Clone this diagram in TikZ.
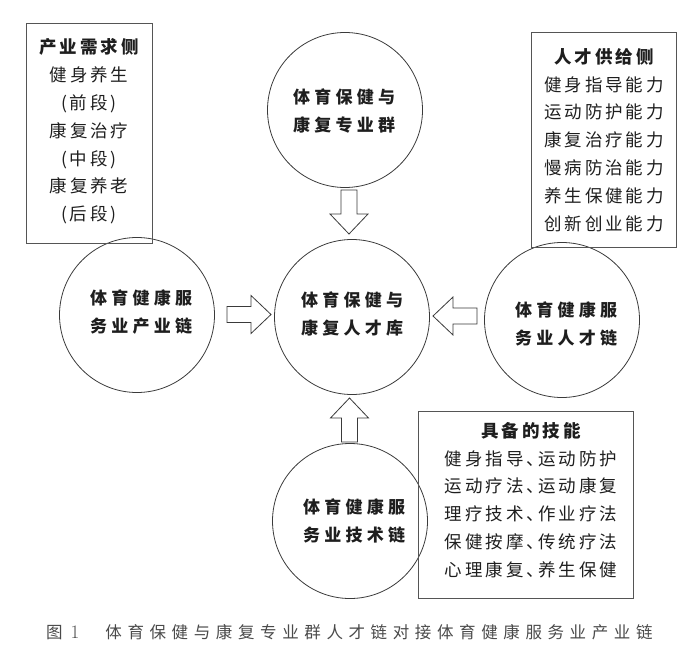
\documentclass[tikz,border=0pt]{standalone}
\usepackage{fontspec}
\newfontfamily\cjkcirc[LetterSpace=25]{Noto Sans CJK SC}
\newfontfamily\cjkbox[LetterSpace=17]{Noto Sans CJK SC}
\newfontfamily\cjkcap[LetterSpace=34]{Noto Sans CJK SC}
\definecolor{linegray}{HTML}{3A3A3A}
\definecolor{boxgray}{HTML}{555555}
\definecolor{txt}{HTML}{1E1E1E}
\definecolor{capgray}{HTML}{4A4A4A}
\tikzset{
  circ/.style={circle, draw=linegray, line width=0.8pt, minimum size=155pt, inner sep=0pt},
  circtext/.style={text=txt, align=center, font=\cjkcirc\bfseries\fontsize{17}{27.5}\selectfont},
  boxframe/.style={rectangle, draw=boxgray, line width=0.8pt, inner sep=0pt},
  boxtext/.style={text=txt, align=center, font=\cjkbox\fontsize{17.5}{27.8}\selectfont},
  arrowline/.style={draw=linegray, line width=0.8pt, fill=white},
  blockarrow/.pic={\path[arrowline] (0,-8) -- (24,-8) -- (24,-19) -- (44,0) -- (24,19) -- (24,8) -- (0,8) -- cycle;}
}
\begin{document}
\begin{tikzpicture}[x=1pt,y=-1pt]
\useasboundingbox (0,0) rectangle (700,666);
% circles
\node[circ] (top) at (345,110) {};
\node[circtext] (toptext) at (344,111) {体育保健与\\康复专业群};
\node[circ] (center) at (352,317) {};
\node[circtext] (centertext) at (352,314) {体育保健与\\康复人才库};
\node[circ] (left) at (137,315) {};
\node[circtext] (lefttext) at (141,312) {体育健康服\\务业产业链};
\node[circ] (right) at (562,320) {};
\node[circtext] (righttext) at (566,324) {体育健康服\\务业人才链};
\node[circ] (bottom) at (350,521) {};
\node[circtext] (bottomtext) at (354,521) {体育健康服\\务业技术链};
% boxes
\node[boxframe, minimum width=126pt, minimum height=220pt] (demand) at (89,133) {};
\node[boxtext] (demandtext) at (89,131.5) {{\bfseries 产业需求侧}\\健身养生\\(前段)\\康复治疗\\(中段)\\康复养老\\(后段)};
\node[boxframe, minimum width=145pt, minimum height=215pt] (supply) at (603.5,139.5) {};
\node[boxtext] (supplytext) at (604,140) {{\bfseries 人才供给侧}\\健身指导能力\\运动防护能力\\康复治疗能力\\慢病防治能力\\养生保健能力\\创新创业能力};
\node[boxframe, minimum width=215pt, minimum height=187pt] (skills) at (525.5,504.5) {};
\node[boxtext] (skillstext) at (531,500) {{\bfseries 具备的技能}\\健身指导、\kern-6pt运动防护\\运动疗法、\kern-6pt运动康复\\理疗技术、\kern-6pt作业疗法\\保健按摩、\kern-6pt传统疗法\\心理康复、\kern-6pt养生保健};
% block arrows
\pic[rotate=-90] at (349,190) {blockarrow};
\pic at (227,314.5) {blockarrow};
\pic[rotate=180] at (477,316) {blockarrow};
\pic[rotate=90] at (349.5,442) {blockarrow};
% caption
\node[anchor=west, text=capgray, inner sep=0pt] (caption) at (46,632)
  {{\cjkcap\fontsize{16.5}{18}\selectfont 图}\hspace{8pt}{\rmfamily\fontsize{19}{18}\selectfont 1}\hspace{26pt}{\cjkcap\fontsize{16.5}{18}\selectfont 体育保健与康复专业群人才链对接体育健康服务业产业链}};
\end{tikzpicture}
\end{document}
